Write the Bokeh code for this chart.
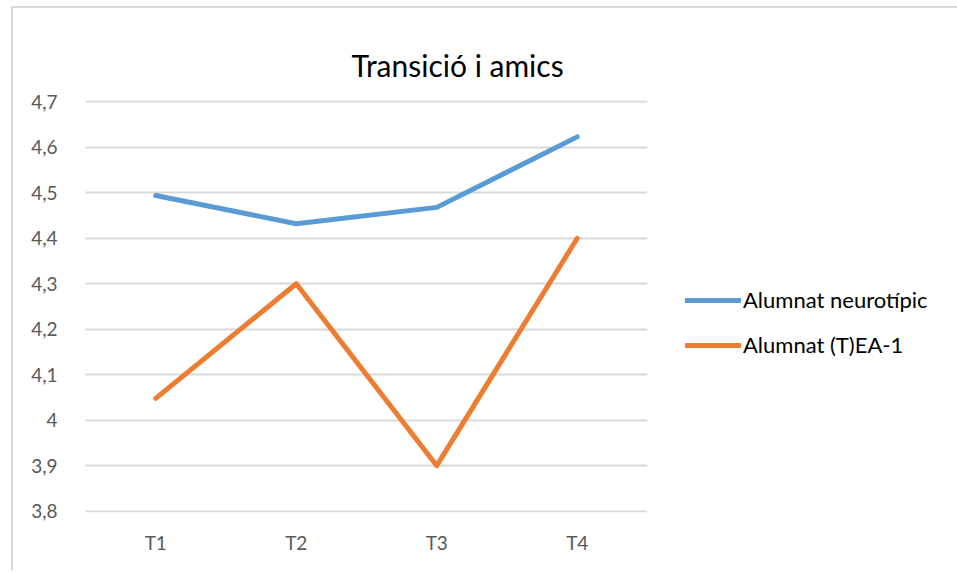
from bokeh.plotting import figure
from bokeh.models import FactorRange, Range1d, CustomJSTickFormatter, FixedTicker, Legend, LegendItem, Title
from bokeh.embed import file_html
from bokeh.resources import INLINE

categories = ["T1", "T2", "T3", "T4"]
neurotipic = [4.494, 4.432, 4.468, 4.623]
tea1 = [4.048, 4.30, 3.90, 4.40]
y_ticks = [3.8, 3.9, 4.0, 4.1, 4.2, 4.3, 4.4, 4.5, 4.6, 4.7]
series_names = ["Alumnat neurotípic", "Alumnat (T)EA-1"]
chart_title = "Transició i amics"

FONT = "Lato"

p = figure(frame_width=562, frame_height=412, x_range=FactorRange(*categories, range_padding=0),
           y_range=Range1d(3.797, 4.703), output_backend="svg", toolbar_location=None,
           min_border_left=72, min_border_right=0, min_border_top=92, min_border_bottom=59,
           margin=(6, 0, 0, 11))
p.styles = {"border-top": "2px solid #d9d9d9", "border-left": "2px solid #d9d9d9"}
p.outline_line_color = None
p.background_fill_color = "white"
p.border_fill_color = "white"
p.title = None

p.add_layout(Title(text=chart_title, align="left", offset=266, standoff=36,
                   text_font=FONT, text_font_size="30px", text_font_style="normal",
                   text_color="#000000"), "above")

r1 = p.line(categories, neurotipic, line_color="#5B9BD5", line_width=5, line_cap="round", line_join="round")
r2 = p.line(categories, tea1, line_color="#ED7D31", line_width=5, line_cap="round", line_join="round")

p.yaxis.ticker = FixedTicker(ticks=y_ticks)
p.yaxis.formatter = CustomJSTickFormatter(code="var s=(Math.round(tick*10)/10).toString(); return s.replace('.', ',');")
for ax in (p.xaxis[0], p.yaxis[0]):
    ax.axis_line_color = None
    ax.major_tick_line_color = None
    ax.minor_tick_line_color = None
    ax.major_label_text_font = FONT
    ax.major_label_text_font_size = "19px"
    ax.major_label_text_color = "#595959"
p.yaxis.major_label_standoff = 22
p.xaxis.major_label_standoff = 12

p.xgrid.grid_line_color = None
p.ygrid.grid_line_color = "#d9d9d9"
p.ygrid.grid_line_width = 2

legend = Legend(items=[LegendItem(label=series_names[0], renderers=[r1]),
                       LegendItem(label=series_names[1], renderers=[r2])],
                location="center_left", orientation="vertical", padding=0, margin=38,
                title=" ", title_text_font_size="22px", title_standoff=6,
                glyph_width=56, glyph_height=22, label_height=22, spacing=18, label_standoff=2,
                label_text_font=FONT, label_text_font_size="22px", label_text_color="#000000",
                border_line_color=None, background_fill_alpha=0)
p.add_layout(legend, "right")

open("out.html", "w").write(file_html(p, INLINE))
